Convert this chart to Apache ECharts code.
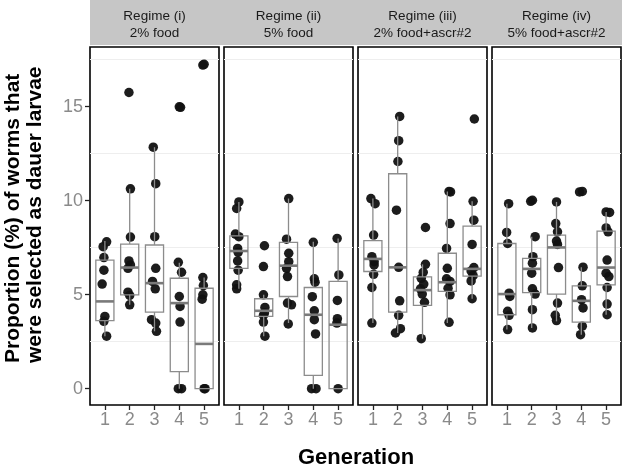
<!DOCTYPE html>
<html>
<head>
<meta charset="utf-8">
<script src="https://cdn.jsdelivr.net/npm/echarts@6/dist/echarts.min.js"></script>
<style>html,body{margin:0;padding:0;background:#fff;}#c{width:622px;height:472px;}</style>
</head>
<body>
<div id="c"></div>
<script>
// ---- DATA ----
const generations = [1, 2, 3, 4, 5];
const regimeTitles = ['Regime (i)\n2% food', 'Regime (ii)\n5% food', 'Regime (iii)\n2% food+ascr#2', 'Regime (iv)\n5% food+ascr#2'];
const yTickValues = [0, 5, 10, 15];
const minorGridValues = [2.5, 7.5, 12.5, 17.5];

// box stats per generation: [lower whisker, Q1, median, Q3, upper whisker]
const boxes_i   = [[2.79,3.62,4.64,6.84,7.85],[4.46,4.99,6.44,7.69,10.63],[3.05,4.07,5.61,7.64,12.84],[0,0.90,4.55,5.87,6.70],[0,0,2.38,5.34,5.91]];
const boxes_ii  = [[5.31,6.40,7.32,8.13,9.93],[2.79,3.84,4.14,4.78,4.99],[3.49,4.90,6.54,7.78,10.11],[0,0.71,3.93,5.38,7.81],[0,0,3.40,5.70,7.99]];
const boxes_iii = [[3.49,6.23,6.90,7.87,10.11],[2.96,4.07,6.45,11.43,14.48],[2.66,4.43,5.24,5.94,6.61],[3.49,5.17,5.66,7.20,10.49],[4.78,5.98,6.37,8.64,9.96]];
const boxes_iv  = [[3.14,3.93,5.03,7.72,9.84],[3.23,5.11,6.37,6.93,8.08],[3.58,5.03,7.51,8.17,9.93],[2.87,3.54,4.67,5.47,6.46],[3.93,5.52,6.44,8.38,9.40]];

// individual replicate points: [generation (jittered), proportion %]
const points_i = [
 [1.07,7.81],[0.93,7.55],[0.96,6.97],[0.96,6.30],[0.89,5.56],[1.00,3.84],[0.96,3.58],[1.07,2.79],
 [1.97,15.75],[2.03,10.63],[2.03,8.06],[1.97,6.79],[2.03,6.58],[1.93,6.40],[1.93,5.13],[2.00,4.96],[2.00,4.46],
 [2.95,12.84],[3.05,10.90],[3.01,8.08],[3.05,6.40],[2.92,5.70],[3.03,5.31],[2.88,3.67],[3.05,3.49],[3.08,3.05],
 [4.00,14.99],[4.05,14.96],[3.96,6.72],[4.09,6.19],[4.00,4.90],[4.03,4.37],[4.03,3.54],[3.96,0],[4.09,0],
 [4.95,17.21],[5.00,17.25],[4.95,5.91],[4.97,5.48],[4.95,4.99],[4.92,4.76],[5.00,0],[5.04,0]
];
const points_ii = [
 [1.00,9.93],[0.91,9.58],[0.86,8.22],[1.00,8.08],[0.95,7.46],[0.97,7.25],[0.95,6.79],[0.97,6.30],[0.91,5.52],[0.91,5.31],
 [2.03,7.60],[1.99,6.49],[1.99,4.99],[2.05,4.32],[2.03,4.02],[1.99,3.90],[1.99,3.54],[2.05,2.79],
 [3.01,10.11],[2.92,7.95],[3.01,7.20],[3.01,6.75],[2.92,6.40],[2.96,5.96],[2.96,4.55],[3.12,4.46],[2.99,3.44],
 [4.00,7.78],[4.04,5.84],[4.07,5.66],[3.96,4.89],[4.04,4.14],[4.04,3.67],[4.09,2.91],[3.93,0],[4.11,0],
 [4.96,7.99],[5.03,6.05],[4.97,4.69],[4.97,3.72],[4.95,3.49],[5.00,0]
];
const points_iii = [
 [0.92,10.11],[1.09,9.84],[1.03,8.17],[0.96,7.02],[1.05,6.75],[1.05,6.58],[1.03,6.08],[0.96,5.38],[0.96,3.49],
 [2.08,14.48],[2.04,13.19],[2.01,12.08],[1.95,9.49],[2.04,6.45],[2.08,4.67],[2.04,3.90],[2.11,3.19],[1.91,2.96],
 [3.12,8.57],[3.12,6.61],[3.03,6.19],[2.95,5.87],[3.05,5.56],[2.92,5.31],[2.99,5.03],[3.08,4.59],[2.95,2.66],
 [4.07,10.49],[4.13,10.46],[4.11,8.78],[3.97,7.46],[4.00,6.40],[3.97,5.84],[4.11,5.70],[4.03,5.34],[4.11,4.99],[4.07,3.53],
 [5.09,14.34],[5.04,9.96],[5.07,8.96],[5.00,7.67],[5.07,6.44],[4.96,6.26],[5.04,6.01],[4.96,5.73],[5.00,4.78]
];
const points_iv = [
 [1.07,9.84],[0.99,8.31],[1.03,7.72],[1.09,5.08],[1.12,4.90],[1.03,4.11],[1.09,3.90],[1.03,3.14],
 [1.96,9.96],[2.03,10.02],[2.14,8.08],[2.05,7.02],[2.03,6.67],[2.00,6.14],[2.03,5.31],[2.14,5.03],[2.03,4.20],[2.03,3.23],
 [3.00,9.93],[2.97,8.78],[3.04,8.34],[3.00,7.85],[3.04,7.67],[3.08,6.44],[3.04,4.55],[2.95,3.90],[3.00,3.62],
 [3.93,10.46],[4.04,10.49],[4.07,6.46],[4.04,5.47],[4.01,4.73],[4.07,4.29],[4.04,3.32],[3.97,2.87],
 [5.00,9.40],[5.14,9.37],[5.00,8.55],[5.08,8.34],[5.04,6.84],[5.00,6.14],[5.11,5.96],[5.04,5.38],[5.04,4.50],[5.04,3.93]
];

const allBoxes = [boxes_i, boxes_ii, boxes_iii, boxes_iv];
const allPoints = [points_i, points_ii, points_iii, points_iv];

// ---- LAYOUT ----
const panelLefts = [90, 224, 358, 492];
const panelWidth = 129;
const panelTop = 47;
const panelHeight = 358;
const yMin = -0.87, yMax = 18.17;

const grids = [], xAxes = [], yAxes = [], series = [], graphics = [];
const labelColor = '#8a8a8a';
const labelFont = 'Liberation Sans, Arial, sans-serif';

graphics.push({type:'rect', shape:{x:90, y:0, width:532, height:45}, style:{fill:'#c6c6c6'}, silent:true});

allBoxes.forEach((boxes, i) => {
  grids.push({left: panelLefts[i], top: panelTop, width: panelWidth, height: panelHeight,
    show: true, borderColor: '#000', borderWidth: 1.6, backgroundColor: '#fff'});
  xAxes.push({type:'value', gridIndex:i, min:0.4, max:5.6, position:'bottom',
    axisLine:{show:false, onZero:false}, splitLine:{show:false},
    axisTick:{show:true, inside:false, customValues: generations, length:5, lineStyle:{color:'#222', width:1.3}},
    axisLabel:{show:true, customValues: generations, color: labelColor, fontSize:18, fontFamily: labelFont, margin:6}
  });
  yAxes.push({type:'value', gridIndex:i, min:yMin, max:yMax, position:'left',
    axisLine:{show:false, onZero:false}, splitLine:{show:false},
    axisTick:{show: i===0, inside:false, customValues: yTickValues, length:5, lineStyle:{color:'#222', width:1.3}},
    axisLabel:{show: i===0, customValues: yTickValues, color: labelColor, fontSize:18, fontFamily: labelFont, margin:7}
  });
  series.push({
    type:'scatter', xAxisIndex:i, yAxisIndex:i, z:2,
    data: allPoints[i], symbolSize:9.5, itemStyle:{color:'#111', opacity:0.95},
    silent:true,
    markLine:{silent:true, symbol:'none', label:{show:false}, z:1,
      lineStyle:{color:'#eeeeee', width:1, type:'solid'},
      data: minorGridValues.map(v => ({yAxis: v}))}
  });
  series.push({
    type:'custom', xAxisIndex:i, yAxisIndex:i, z:3, silent:true,
    data: boxes.map((b, k) => [generations[k]].concat(b)),
    encode:{x:0, y:[1,2,3,4,5]},
    renderItem: function(params, api) {
      const x = api.value(0);
      const w = api.size([1, 0])[0] * 0.73;
      const pLo = api.coord([x, api.value(1)]);
      const pQ1 = api.coord([x, api.value(2)]);
      const pMed = api.coord([x, api.value(3)]);
      const pQ3 = api.coord([x, api.value(4)]);
      const pHi = api.coord([x, api.value(5)]);
      const stroke = {stroke:'#8c8c8c', lineWidth:1.3, fill:null};
      return {type:'group', children:[
        {type:'line', shape:{x1:pLo[0], y1:pLo[1], x2:pQ1[0], y2:pQ1[1]}, style:stroke},
        {type:'line', shape:{x1:pQ3[0], y1:pQ3[1], x2:pHi[0], y2:pHi[1]}, style:stroke},
        {type:'rect', shape:{x:pQ1[0]-w/2, y:pQ3[1], width:w, height:pQ1[1]-pQ3[1]}, style:{stroke:'#8c8c8c', lineWidth:1.3, fill:'none'}},
        {type:'line', shape:{x1:pMed[0]-w/2, y1:pMed[1], x2:pMed[0]+w/2, y2:pMed[1]}, style:{stroke:'#7a7a7a', lineWidth:2.6}}
      ]};
    }
  });
  graphics.push({type:'text', x: panelLefts[i] + panelWidth/2, y: 24.5, silent:true,
    style:{text: regimeTitles[i], fill:'#1a1a1a', font:'13.5px "Liberation Sans", Arial, sans-serif',
      align:'center', verticalAlign:'middle', lineHeight:17}});
});

graphics.push({type:'text', x: 356, y: 458, silent:true,
  style:{text:'Generation', fill:'#000', font:'bold 22px "Liberation Sans", Arial, sans-serif', align:'center', verticalAlign:'middle'}});
graphics.push({type:'text', x: 24, y: 363, rotation: Math.PI/2, silent:true,
  style:{text:'Proportion (%) of worms that\nwere selected as dauer larvae', fill:'#000',
    font:'bold 21px "Liberation Sans", Arial, sans-serif', align:'left', verticalAlign:'middle', lineHeight:22}});

const chart = echarts.init(document.getElementById('c'), null, {renderer:'canvas'});
chart.setOption({
  animation:false,
  backgroundColor:'#fff',
  grid: grids, xAxis: xAxes, yAxis: yAxes, series: series, graphic: graphics
});
</script>
</body>
</html>
